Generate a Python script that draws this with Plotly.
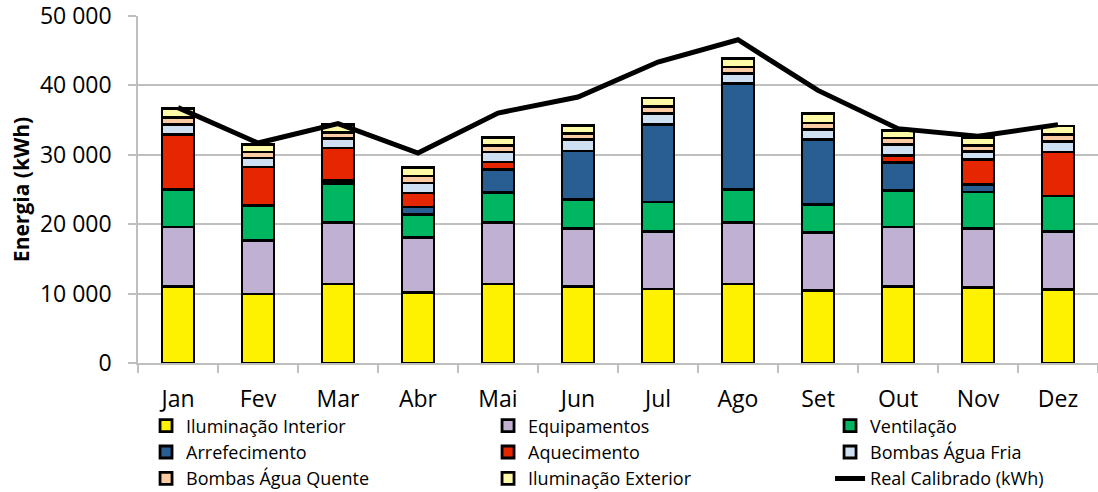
import plotly.graph_objects as go

meses = ["Jan", "Fev", "Mar", "Abr", "Mai", "Jun", "Jul", "Ago", "Set", "Out", "Nov", "Dez"]

iluminacao_interior = [11000, 9930, 11370, 10120, 11370, 10980, 10650, 11370, 10500, 10980, 10890, 10600]
equipamentos = [8610, 7770, 8820, 7970, 8820, 8400, 8340, 8820, 8300, 8630, 8490, 8390]
ventilacao = [5390, 5040, 5670, 3310, 4370, 4220, 4220, 4810, 4080, 5280, 5270, 5080]
arrefecimento = [0, 0, 380, 1090, 3360, 6950, 11180, 15250, 9310, 3990, 1110, 0]
aquecimento = [7950, 5510, 4740, 2020, 1050, 0, 0, 0, 0, 1050, 3550, 6340]
bombas_agua_fria = [1440, 1300, 1350, 1440, 1440, 1640, 1540, 1440, 1480, 1540, 1200, 1540]
bombas_agua_quente = [960, 860, 870, 1010, 960, 860, 1050, 950, 910, 950, 860, 960]
iluminacao_exterior = [1300, 1100, 1190, 1200, 1110, 1200, 1200, 1200, 1350, 1110, 1110, 1240]
real_calibrado = [36800, 31700, 34490, 30260, 36020, 38320, 43360, 46580, 39280, 33770, 32670, 34350]

series = [
    ("Iluminação Interior", iluminacao_interior, "#FFF200"),
    ("Equipamentos", equipamentos, "#C0B1D3"),
    ("Ventilação", ventilacao, "#00B660"),
    ("Arrefecimento", arrefecimento, "#285E92"),
    ("Aquecimento", aquecimento, "#E52600"),
    ("Bombas Água Fria", bombas_agua_fria, "#CFE0F2"),
    ("Bombas Água Quente", bombas_agua_quente, "#FBCBA3"),
    ("Iluminação Exterior", iluminacao_exterior, "#FFFAA8"),
]

FONT = "Open Sans"

fig = go.Figure()
for name, vals, color in series:
    fig.add_trace(go.Bar(
        x=meses, y=vals, name=name,
        marker=dict(color=color, line=dict(color="black", width=2.8)),
    ))

fig.add_trace(go.Scatter(
    x=meses, y=real_calibrado, name="Real Calibrado (kWh)",
    mode="lines", line=dict(color="black", width=5),
))

fig.update_layout(
    width=1098, height=492,
    barmode="stack", bargap=0.6,
    plot_bgcolor="white", paper_bgcolor="white",
    margin=dict(l=138, r=0, t=16, b=129, autoexpand=False),
    font=dict(family=FONT, color="black"),
    showlegend=True,
    legend=dict(
        orientation="h", x=-0.001, xanchor="left", y=-0.102, yanchor="top",
        entrywidth=297, entrywidthmode="pixels",
        bgcolor="rgba(0,0,0,0)", bordercolor="rgba(0,0,0,0)", borderwidth=9,
        font=dict(family=FONT, size=18, color="black"),
        traceorder="normal", tracegroupgap=0,
    ),
)

fig.update_yaxes(
    range=[0, 50000], dtick=10000, tickformat=",d", separatethousands=True,
    showgrid=True, gridcolor="#BFBFBF", gridwidth=1.5,
    showline=True, linecolor="#BFBFBF", linewidth=1.5,
    ticks="outside", ticklen=8, tickcolor="#BFBFBF", tickwidth=1.5,
    tickfont=dict(family=FONT, size=23), ticklabelstandoff=12,
    ticklabeloverflow="allow",
    title=dict(text="<b>Energia (kWh)</b>", font=dict(family=FONT, size=21), standoff=5),
    zeroline=False, automargin=False,
)
fig.update_xaxes(
    showline=True, linecolor="#BFBFBF", linewidth=1.5,
    ticks="outside", ticklen=8, tickcolor="#BFBFBF", tickwidth=1.5,
    tickson="boundaries", ticklabelstandoff=15,
    tickfont=dict(family=FONT, size=23), automargin=False,
)
fig.update_layout(separators=". ")

fig.write_html(
    "out.html",
    config={"displayModeBar": False},
    post_script="document.body.style.margin='0';document.body.style.overflow='hidden';",
)
